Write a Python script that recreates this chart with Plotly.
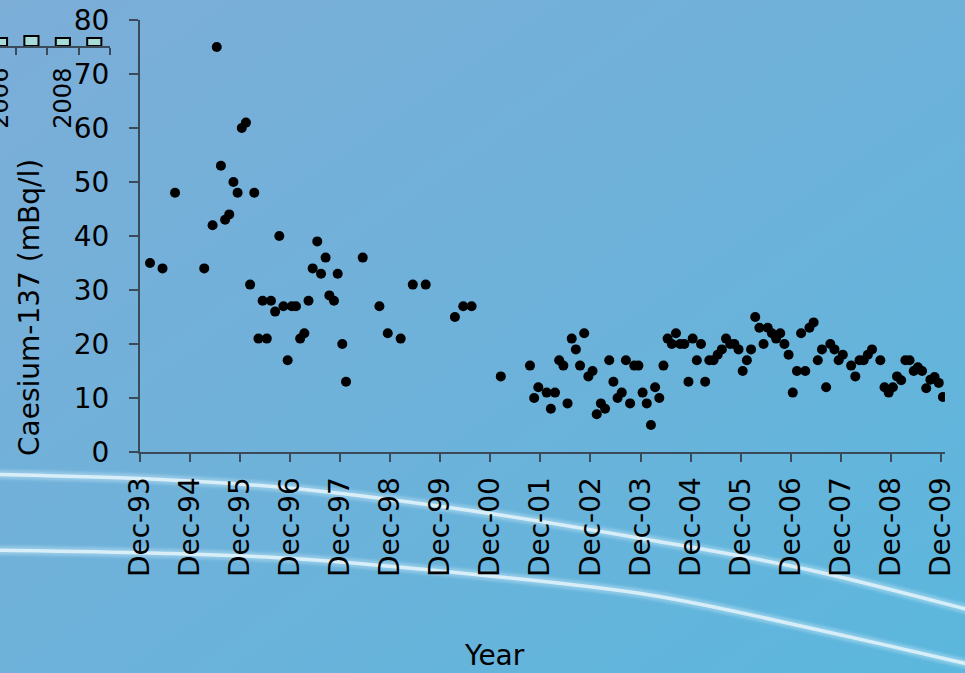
import base64
import plotly.graph_objects as go

# ---------------- data ----------------
# months elapsed since December 1993
months = [2.4, 5.4, 8.4, 15.4, 17.4, 18.4, 19.4, 20.4, 21.4, 22.4, 23.4, 24.4, 25.4,
          26.4, 27.4, 28.4, 29.4, 30.4, 31.4, 32.4, 33.4, 34.4, 35.4, 36.4, 37.4, 38.4,
          39.4, 40.4, 41.4, 42.5, 43.4, 44.5, 45.4, 46.5, 47.4, 48.5, 49.4, 53.4, 57.4,
          59.4, 62.5, 65.4, 68.5, 75.5, 77.5, 79.5, 86.5,
          93.5, 94.5, 95.5, 97.5, 98.5, 99.5, 100.5, 101.5, 102.5, 103.5, 104.5, 105.5,
          106.5, 107.5, 108.5, 109.5, 110.5, 111.5, 112.5, 113.5, 114.5, 115.5, 116.5,
          117.5, 118.5, 119.5, 120.5, 121.5, 122.5, 123.5, 124.5, 125.5, 126.5, 127.5,
          128.5, 129.5, 130.5, 131.5, 132.5, 133.5, 134.5, 135.5, 136.5, 137.5, 138.5,
          139.5, 140.5, 141.5, 142.5, 143.5, 144.5, 145.5, 146.5, 147.5, 148.5, 149.5,
          150.5, 151.5, 152.5, 153.5, 154.5, 155.5, 156.5, 157.5, 158.5, 159.5, 160.5,
          161.5, 162.5, 163.5, 164.5, 165.5, 166.5, 167.5, 168.5, 170.5, 171.5, 172.5,
          173.5, 174.5, 175.5, 177.5, 178.5, 179.5, 180.5, 181.5, 182.5, 183.5, 184.5,
          185.5, 186.5, 187.5, 188.5, 189.5, 190.5, 191.5, 192.5]
caesium = [35, 34, 48, 34, 42, 75, 53, 43, 44, 50, 48, 60, 61,
           31, 48, 21, 28, 21, 28, 26, 40, 27, 17, 27, 27, 21,
           22, 28, 34, 39, 33, 36, 29, 28, 33, 20, 13, 36, 27,
           22, 21, 31, 31, 25, 27, 27, 14,
           16, 10, 12, 11, 8, 11, 17, 16, 9, 21, 19, 16,
           22, 14, 15, 7, 9, 8, 17, 13, 10, 11, 17,
           9, 16, 16, 11, 9, 5, 12, 10, 16, 21, 20,
           22, 20, 20, 13, 21, 17, 20, 13, 17, 17, 18,
           19, 21, 20, 20, 19, 15, 17, 19, 25, 23, 20,
           23, 22, 21, 22, 20, 18, 11, 15, 22, 15, 23,
           24, 17, 19, 12, 20, 19, 17, 18, 16, 14, 17,
           17, 18, 19, 17, 12, 11, 12, 14, 13.3, 17, 17,
           15, 15.7, 15, 11.8, 13.4, 13.9, 12.8, 10.2]
tick_months = list(range(0, 193, 12))
tick_labels = ["Dec-93", "Dec-94", "Dec-95", "Dec-96", "Dec-97", "Dec-98", "Dec-99",
               "Dec-00", "Dec-01", "Dec-02", "Dec-03", "Dec-04", "Dec-05", "Dec-06",
               "Dec-07", "Dec-08", "Dec-09"]
y_ticks = [0, 10, 20, 30, 40, 50, 60, 70, 80]

# fragment of a neighbouring chart visible in the top-left corner
frag_years = [2006, 2007, 2008, 2009]
frag_values = [4, 5, 4, 4]
frag_tick_years = [2006, 2008]
frag_tick_labels = ["2006", "2008"]

# ---------------- styling ----------------
W, H = 965, 673
FONT = "DejaVu Sans"
AXIS = "#3b4a58"


def catmull(points):
    d = "M%.1f,%.1f" % points[0]
    for i in range(len(points) - 1):
        p0 = points[i - 1] if i > 0 else points[i]
        p1 = points[i]
        p2 = points[i + 1]
        p3 = points[i + 2] if i + 2 < len(points) else points[i + 1]
        c1 = (p1[0] + (p2[0] - p0[0]) / 6, p1[1] + (p2[1] - p0[1]) / 6)
        c2 = (p2[0] - (p3[0] - p1[0]) / 6, p2[1] - (p3[1] - p1[1]) / 6)
        d += " C%.1f,%.1f %.1f,%.1f %.1f,%.1f" % (c1 + c2 + p2)
    return d


upper = [(-20, 474), (150, 479), (300, 489), (480, 512), (650, 540), (810, 570), (985, 614)]
lower = [(-20, 550), (150, 553), (300, 559), (480, 575), (650, 595), (810, 628), (985, 668)]

svg = f'''<svg xmlns="http://www.w3.org/2000/svg" width="{W}" height="{H}" viewBox="0 0 {W} {H}">
<defs>
<linearGradient id="g" x1="0" y1="0" x2="1" y2="1">
<stop offset="0" stop-color="#7caed8"/>
<stop offset="0.55" stop-color="#6cb2da"/>
<stop offset="1" stop-color="#5bb7dd"/>
</linearGradient>
<filter id="b"><feGaussianBlur stdDeviation="1.8"/></filter>
</defs>
<rect width="{W}" height="{H}" fill="url(#g)"/>
<g fill="none" stroke-linecap="round">
<path d="{catmull(upper)}" stroke="#c4e6f7" stroke-width="9" opacity="0.45" filter="url(#b)"/>
<path d="{catmull(upper)}" stroke="#e4f4fc" stroke-width="3.5" opacity="0.85"/>
<path d="{catmull(lower)}" stroke="#c4e6f7" stroke-width="9" opacity="0.45" filter="url(#b)"/>
<path d="{catmull(lower)}" stroke="#e4f4fc" stroke-width="3.5" opacity="0.85"/>
</g>
</svg>'''
bg_src = "data:image/svg+xml;base64," + base64.b64encode(svg.encode()).decode()

fig = go.Figure()

fig.add_trace(go.Scatter(
    x=months, y=caesium, mode="markers",
    marker=dict(color="black", size=10, line=dict(width=0)),
    xaxis="x", yaxis="y", showlegend=False, hoverinfo="x+y"))

fig.add_trace(go.Bar(
    x=frag_years, y=frag_values, width=0.45,
    marker=dict(color="#a8dcd8", line=dict(color="black", width=2)),
    xaxis="x2", yaxis="y2", showlegend=False))

fig.update_layout(
    width=W, height=H, autosize=False, showlegend=False,
    margin=dict(l=0, r=0, t=0, b=0, pad=0, autoexpand=False),
    paper_bgcolor="#6cb2da",
    plot_bgcolor="rgba(0,0,0,0)",
    font=dict(family=FONT, size=28, color="black"),
    images=[dict(source=bg_src, xref="paper", yref="paper", x=0, y=1,
                 sizex=1, sizey=1, sizing="stretch", xanchor="left", yanchor="top",
                 layer="below")],
    xaxis=dict(domain=[140 / W, 945 / W], range=[0, 193], anchor="y", automargin=False,
               tickmode="array", tickvals=tick_months, ticktext=tick_labels,
               tickangle=-90, ticks="outside", ticklen=8, tickwidth=2, tickcolor=AXIS,
               showline=True, linecolor=AXIS, linewidth=2, showgrid=False,
               zeroline=False, ticklabelstandoff=4,
               tickfont=dict(family=FONT, size=28, color="black")),
    yaxis=dict(domain=[1 - 452 / H, 1 - 20 / H], range=[0, 80], anchor="x", automargin=False,
               tickmode="array", tickvals=y_ticks,
               ticks="outside", ticklen=9, tickwidth=2, tickcolor=AXIS,
               showline=True, linecolor=AXIS, linewidth=2, showgrid=False,
               zeroline=False, ticklabelstandoff=14,
               tickfont=dict(family=FONT, size=28, color="black")),
    xaxis2=dict(domain=[0, 110 / W], range=[2006, 2009.5], anchor="y2", automargin=False,
                tickmode="array", tickvals=frag_tick_years, ticktext=frag_tick_labels,
                tickangle=-90, ticks="", showline=True, linecolor=AXIS, linewidth=2,
                showgrid=False, zeroline=False, ticklabelstandoff=10,
                ticklabeloverflow="allow",
                tickfont=dict(family=FONT, size=24, color="black"),
                minor=dict(tickvals=[2005.5, 2006.5, 2007.5, 2008.5, 2009.5],
                           ticks="outside", ticklen=7, tickwidth=2, tickcolor=AXIS,
                           showgrid=False)),
    yaxis2=dict(domain=[1 - 46 / H, 1 - 26 / H], range=[0, 10], anchor="x2",
                automargin=False, visible=False),
    annotations=[
        dict(text="Caesium-137 (mBq/l)", xref="paper", yref="paper",
             x=30 / W, y=1 - 308 / H, xanchor="center", yanchor="middle",
             textangle=-90, showarrow=False,
             font=dict(family=FONT, size=28, color="black")),
        dict(text="Year", xref="paper", yref="paper",
             x=494 / W, y=1 - 655 / H, xanchor="center", yanchor="middle",
             showarrow=False, font=dict(family=FONT, size=28, color="black")),
    ],
)

fig.write_html("out.html", config={"displayModeBar": False},
               post_script="document.body.style.margin='0';document.body.style.overflow='hidden';")
